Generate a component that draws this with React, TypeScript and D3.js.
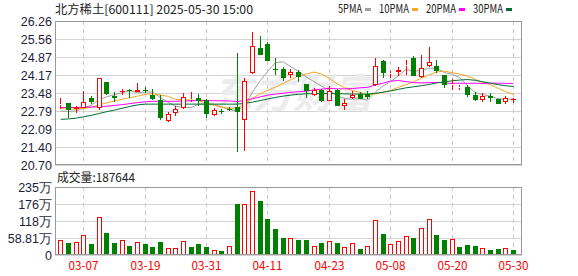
import React from "react";
import * as d3 from "d3";

const dates = ["03-04","03-05","03-06","03-07","03-10","03-11","03-12","03-13","03-14","03-17","03-18","03-19","03-20","03-21","03-24","03-25","03-26","03-27","03-28","03-31","04-01","04-02","04-03","04-07","04-08","04-09","04-10","04-11","04-14","04-15","04-16","04-17","04-18","04-21","04-22","04-23","04-24","04-25","04-28","04-29","04-30","05-06","05-07","05-08","05-09","05-12","05-13","05-14","05-15","05-16","05-19","05-20","05-21","05-22","05-23","05-26","05-27","05-28","05-29","05-30"];

const openP = [23.03,23.08,22.86,22.89,23.30,22.92,23.89,23.38,23.54,23.61,23.53,23.59,23.40,23.21,22.41,22.72,22.89,23.22,23.29,23.21,22.63,22.80,22.87,22.95,22.42,24.24,25.23,25.38,24.41,24.41,24.16,24.30,23.83,23.40,23.60,23.19,23.60,22.98,23.30,23.44,23.43,23.77,24.72,24.22,24.28,24.54,24.84,24.11,24.53,24.52,24.18,23.78,23.69,23.72,23.40,23.21,23.38,23.24,23.14,23.24];
const highP = [23.29,23.10,22.98,23.56,23.38,24.05,23.90,23.53,23.62,23.62,23.88,23.70,23.62,23.40,22.73,22.97,23.49,23.50,23.43,23.23,22.89,22.88,22.95,25.04,24.05,25.82,25.68,25.46,24.84,24.50,24.41,24.37,23.83,23.67,23.63,23.75,23.63,23.24,23.56,23.53,23.56,24.83,24.76,24.34,24.50,24.76,24.89,24.95,25.25,24.76,24.18,24.02,23.78,23.79,23.53,23.49,23.48,23.25,23.38,23.27];
const lowP = [22.85,22.50,22.70,22.89,23.04,22.82,23.40,23.14,23.42,23.28,23.50,23.48,23.21,22.44,22.37,22.61,22.86,23.14,22.98,22.53,22.61,22.67,22.78,21.20,21.24,24.20,24.95,24.72,24.17,23.94,24.05,23.92,23.28,23.36,23.14,23.18,22.98,22.83,23.24,23.23,23.24,23.75,24.06,24.05,24.14,24.18,24.14,24.05,24.47,24.24,23.67,23.60,23.59,23.34,23.18,23.14,23.14,23.04,23.05,23.09];
const closeP = [23.05,22.82,22.95,23.14,23.12,24.05,23.44,23.30,23.56,23.54,23.60,23.57,23.25,22.52,22.66,22.85,23.31,23.26,23.17,22.67,22.82,22.75,22.84,22.76,23.94,25.28,24.95,24.73,24.39,24.06,24.31,24.10,23.56,23.58,23.17,23.54,22.99,23.11,23.40,23.24,23.33,24.54,24.24,24.25,24.37,24.57,24.15,24.43,24.67,24.33,23.79,23.82,23.72,23.40,23.21,23.38,23.28,23.04,23.29,23.25];

// volume in 万手
const volume = [50.8,41.5,43.8,68.0,38.0,130.3,76.1,41.5,50.8,31.1,43.8,38.0,27.7,45.0,23.1,23.1,47.4,27.7,38.0,27.7,16.1,13.8,31.1,176.4,176.4,220.3,186.8,124.5,91.1,60.0,57.7,51.9,51.9,31.1,41.5,47.4,41.5,26.5,40.4,20.8,31.1,119.9,72.6,36.9,47.4,65.7,58.8,93.4,123.4,69.2,51.9,55.3,27.7,34.6,31.1,23.1,17.3,20.8,23.1,18.7644];

const ma5 = [22.78,22.77,22.79,22.90,23.02,23.22,23.34,23.41,23.49,23.57,23.49,23.52,23.51,23.30,23.12,22.97,22.92,22.92,23.05,23.05,23.05,22.93,22.85,22.77,23.02,23.52,23.96,24.33,24.66,24.68,24.49,24.32,24.09,23.92,23.74,23.59,23.37,23.27,23.24,23.26,23.21,23.52,23.75,23.92,24.15,24.39,24.32,24.35,24.44,24.43,24.27,24.21,24.07,23.76,23.50,23.42,23.36,23.26,23.24,23.25];
const ma10 = [22.88,22.86,22.86,22.88,22.93,23.02,23.10,23.17,23.24,23.30,23.36,23.43,23.46,23.40,23.35,23.23,23.22,23.21,23.18,23.09,23.01,22.93,22.89,22.91,23.04,23.28,23.45,23.59,23.71,23.85,24.00,24.14,24.21,24.29,24.21,24.04,23.84,23.68,23.58,23.50,23.40,23.45,23.51,23.58,23.70,23.80,23.92,24.05,24.18,24.29,24.33,24.26,24.21,24.13,24.01,23.89,23.80,23.66,23.53,23.42];
const ma20 = [22.92,22.92,22.92,22.93,22.94,22.95,22.97,23.00,23.03,23.07,23.11,23.14,23.16,23.16,23.16,23.16,23.17,23.18,23.19,23.19,23.18,23.18,23.17,23.15,23.19,23.26,23.33,23.40,23.44,23.47,23.51,23.53,23.55,23.60,23.63,23.66,23.64,23.64,23.65,23.68,23.70,23.79,23.86,23.94,23.96,23.92,23.88,23.87,23.88,23.89,23.87,23.85,23.86,23.85,23.86,23.85,23.86,23.86,23.85,23.85];
const ma30 = [22.46,22.48,22.51,22.56,22.62,22.69,22.76,22.82,22.89,22.96,23.02,23.05,23.05,23.05,23.05,23.05,23.05,23.05,23.05,23.05,23.05,23.05,23.05,23.05,23.08,23.13,23.19,23.25,23.31,23.36,23.40,23.43,23.45,23.46,23.46,23.46,23.45,23.45,23.44,23.44,23.44,23.47,23.51,23.56,23.62,23.68,23.72,23.76,23.81,23.87,23.91,23.95,23.98,24.00,23.97,23.91,23.86,23.80,23.76,23.73];

const priceTicks = ["26.26","25.56","24.87","24.17","23.48","22.79","22.09","21.40","20.70"];
const volTickValues = [0, 58.81, 117.62, 176.43, 235.24];
const volTickLabels = ["0", "58.81万", "118万", "176万", "235万"];
const dateTicks = ["03-07","03-19","03-31","04-11","04-23","05-08","05-20","05-30"];

const maNames = ["5PMA", "10PMA", "20PMA", "30PMA"];
const maSeries = [ma5, ma10, ma20, ma30];
const maColors = ["#a0a0a0", "#f5a623", "#ff00ff", "#006f32"];

const titleText = "北方稀土[600111] 2025-05-30 15:00";
const volTitle = "成交量:187644";

const RED = "#ff0000";
const GREEN = "#008000";

export default function App() {
  const W = 578, H = 276;
  const left = 55, right = 522, pTop = 21, pBot = 165, vTop = 187, vBot = 255;
  const x = d3.scalePoint<string>().domain(dates).range([60.3, 513]);
  const yP = d3.scaleLinear().domain([20.70, 26.26]).range([pBot, pTop]);
  const yV = d3.scaleLinear().domain([0, 235.24]).range([vBot, vTop]);
  const px = (d: string) => Math.round(x(d) as number);

  const line = d3.line<number>()
    .x((_, i) => (x(dates[i]) as number) + 0.5)
    .y((d) => yP(d));

  const font = "'Noto Sans CJK SC', 'DejaVu Sans', sans-serif";
  const axisFont = "'Liberation Sans', Arial, sans-serif";

  const candles = dates.map((d, i) => {
    const o = openP[i], c = closeP[i], h = highP[i], l = lowP[i];
    const up = c >= o;
    const xi = px(d);
    const cx = xi + 0.5;
    const yt = Math.round(yP(Math.max(o, c)));
    const yb = Math.round(yP(Math.min(o, c)));
    const yh = Math.round(yP(h));
    const yl = Math.round(yP(l));
    const col = up ? RED : GREEN;
    if (yb - yt < 1) {
      return (
        <g key={d}>
          <line x1={cx} x2={cx} y1={yh} y2={yl} stroke={col} />
          <line x1={xi - 2} x2={xi + 3} y1={yt + 0.5} y2={yt + 0.5} stroke={col} />
        </g>
      );
    }
    if (up) {
      return (
        <g key={d}>
          <line x1={cx} x2={cx} y1={yh} y2={yt} stroke={col} />
          <line x1={cx} x2={cx} y1={yb} y2={yl} stroke={col} />
          <rect x={xi - 1.5} y={yt + 0.5} width={4} height={yb - yt - 1} fill="#fff" stroke={col} />
        </g>
      );
    }
    return (
      <g key={d}>
        <line x1={cx} x2={cx} y1={yh} y2={yl} stroke={col} />
        <rect x={xi - 2} y={yt} width={5} height={yb - yt} fill={col} />
      </g>
    );
  });

  const vols = dates.map((d, i) => {
    const up = i === 0 ? closeP[i] >= openP[i] : closeP[i] >= closeP[i - 1];
    const xi = px(d);
    const yt = Math.round(yV(volume[i]));
    if (up) {
      return <rect key={d} x={xi - 1.5} y={yt + 0.5} width={4} height={vBot - yt - 1} fill="#fff" stroke={RED} />;
    }
    return <rect key={d} x={xi - 2} y={yt} width={5} height={vBot - yt} fill={GREEN} />;
  });

  let lx = 338;
  const legend = maNames.map((n, k) => {
    const tx = lx;
    const tw = n.length * 6;
    lx += tw + 17;
    return (
      <g key={n}>
        <text x={tx} y={13} fontSize={12} fontFamily={font} fill="#222" textLength={tw} lengthAdjust="spacingAndGlyphs">{n}</text>
        <rect x={tx + tw + 3} y={8} width={6} height={3} fill={maColors[k]} />
      </g>
    );
  });

  return (
    <svg width={W} height={H} style={{ position: "absolute", left: 0, top: 0, background: "#fff" }}>
      <defs>
        <clipPath id="pclip"><rect x={left} y={pTop} width={right - left} height={pBot - pTop} /></clipPath>
      </defs>
      <text x={55} y={13.5} fontSize={12} fontFamily={font} fill="#222" textLength={198} lengthAdjust="spacingAndGlyphs">{titleText}</text>
      {legend}

      {/* price grid */}
      {priceTicks.map((t) => {
        const y = Math.round(yP(+t)) + 0.5;
        return (
          <g key={t}>
            <line x1={left} x2={right} y1={y} y2={y} stroke="#d4d4d4" />
            <text x={52} y={y} dy="0.35em" textAnchor="end" fontSize={12.5} fontFamily={axisFont} fill="#1e1e3c">{t}</text>
          </g>
        );
      })}
      {dateTicks.map((d) => (
        <line key={"pv" + d} x1={px(d) + 0.5} x2={px(d) + 0.5} y1={pTop} y2={pBot} stroke="#c8c8c8" strokeDasharray="4,4" />
      ))}
      <text x={213} y={108} fontSize={40} fontWeight="bold" fontStyle="italic" fontFamily={font} fill="#ececec">东方财富</text>

      <g clipPath="url(#pclip)">
        {maSeries.map((s, k) => (
          <path key={k} d={line(s) || ""} fill="none" stroke={maColors[k]} strokeWidth={1} />
        ))}
        {candles}
      </g>
      <rect x={left + 0.5} y={pTop + 0.5} width={right - left - 1} height={pBot - pTop - 1} fill="none" stroke="#999" />

      {/* volume */}
      <text x={57} y={182} fontSize={12} fontFamily={font} fill="#222" textLength={78} lengthAdjust="spacingAndGlyphs">{volTitle}</text>
      {volTickValues.map((v, k) => {
        const y = Math.round(yV(v)) + 0.5;
        return (
          <g key={v}>
            <line x1={left} x2={right} y1={y} y2={y} stroke="#d4d4d4" />
            <text x={52} y={y} dy="0.35em" textAnchor="end" fontSize={12.5} fontFamily={axisFont} fill="#1e1e3c">{volTickLabels[k]}</text>
          </g>
        );
      })}
      {dateTicks.map((d) => (
        <line key={"vv" + d} x1={px(d) + 0.5} x2={px(d) + 0.5} y1={vTop} y2={vBot} stroke="#c8c8c8" strokeDasharray="4,4" />
      ))}
      {vols}
      <rect x={left + 0.5} y={vTop + 0.5} width={right - left - 1} height={vBot - vTop - 1} fill="none" stroke="#999" />
      {dateTicks.map((d) => (
        <text key={"xl" + d} x={px(d) + 0.5} y={270} textAnchor="middle" fontSize={12} fontFamily={font} fill={RED} textLength={30} lengthAdjust="spacingAndGlyphs">{d}</text>
      ))}
    </svg>
  );
}
